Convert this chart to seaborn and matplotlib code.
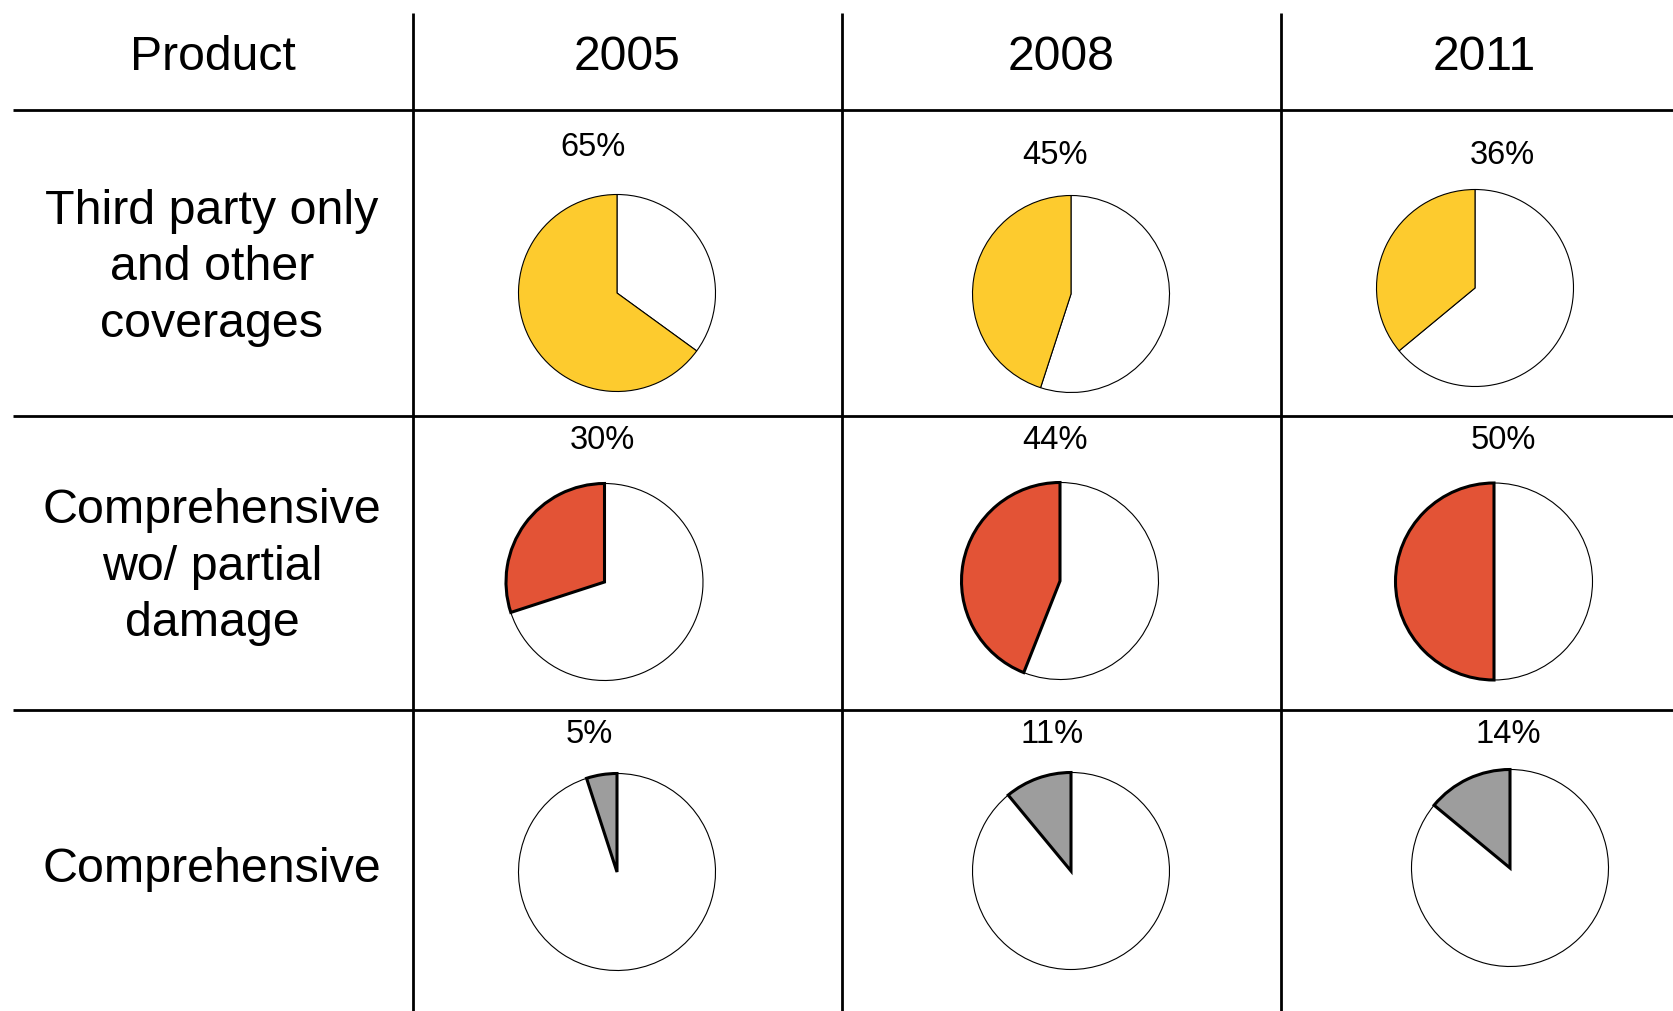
import matplotlib
matplotlib.use("Agg")
import matplotlib.pyplot as plt
import seaborn as sns

# Market share of motor insurance products by year
years = ["2005", "2008", "2011"]
products = [
    "Third party only\nand other\ncoverages",
    "Comprehensive\nwo/ partial\ndamage",
    "Comprehensive",
]
third_party_share = [65, 45, 36]
partial_share = [30, 44, 50]
comprehensive_share = [5, 11, 14]
shares = [third_party_share, partial_share, comprehensive_share]

row_colors = ["#FDCB2E", "#E35336", "#9D9D9D"]
row_edge_widths = [0.8, 2.2, 2.2]

sns.set_theme(style="white")
plt.rcParams["font.family"] = ["Liberation Sans", "DejaVu Sans"]

W, H = 1674, 1011
fig = plt.figure(figsize=(W / 100, H / 100), dpi=100)
fig.patch.set_facecolor("white")

# Full-figure layer for the table grid and text, in pixel units
grid = fig.add_axes([0, 0, 1, 1])
grid.set_xlim(0, W)
grid.set_ylim(H, 0)
grid.axis("off")

col_lines_x = [413, 842, 1281]
row_lines_y = [110, 415.5, 710]
for x in col_lines_x:
    grid.plot([x, x], [13, H], color="black", lw=2, solid_capstyle="butt")
for y in row_lines_y:
    grid.plot([13, W], [y, y], color="black", lw=2, solid_capstyle="butt")

# Header row
header_x = [213, 627, 1061, 1484]
header_baseline = 70.5
grid.text(header_x[0], header_baseline, "Product", fontsize=34.7,
          ha="center", va="baseline", color="black")
for x, yr in zip(header_x[1:], years):
    grid.text(x, header_baseline, yr, fontsize=34.7,
              ha="center", va="baseline", color="black")

# Row labels
label_x = 212
label_y = [268, 567, 869]
for y, name in zip(label_y, products):
    grid.text(label_x, y, name, fontsize=34.8, ha="center", va="center",
              linespacing=1.33, color="black", multialignment="center")

# Pie positions (pixel centres) and percentage label positions
pie_centres = [
    [(617, 293), (1071, 294), (1475, 288)],
    [(604.5, 582), (1060, 581), (1494, 581.5)],
    [(617, 872), (1071, 871), (1510, 868)],
]
pct_pos = [
    [(593, 156.5), (1055, 164), (1502, 164)],
    [(602, 449), (1055, 449), (1503, 449)],
    [(589.5, 743), (1052, 743), (1508, 743)],
]
radius_px = 98.5
pad = 1.1

for i, row in enumerate(shares):
    for j, value in enumerate(row):
        cx, cy = pie_centres[i][j]
        half = radius_px * pad
        ax = fig.add_axes([(cx - half) / W, 1 - (cy + half) / H,
                           2 * half / W, 2 * half / H])
        wedges, _ = ax.pie(
            [value, 100 - value],
            colors=[row_colors[i], "white"],
            startangle=90,
            counterclock=True,
            radius=1,
            wedgeprops=dict(edgecolor="black", linewidth=0.8),
        )
        wedges[0].set_linewidth(row_edge_widths[i])
        wedges[0].set_zorder(3)
        wedges[1].set_zorder(2)
        ax.set_xlim(-pad, pad)
        ax.set_ylim(-pad, pad)
        ax.set_aspect("equal")
        ax.axis("off")

        tx, ty = pct_pos[i][j]
        grid.text(tx, ty, f"{value}%", fontsize=23.5, ha="center",
                  va="baseline", color="black")

fig.savefig("out.png", dpi=100, facecolor="white")
